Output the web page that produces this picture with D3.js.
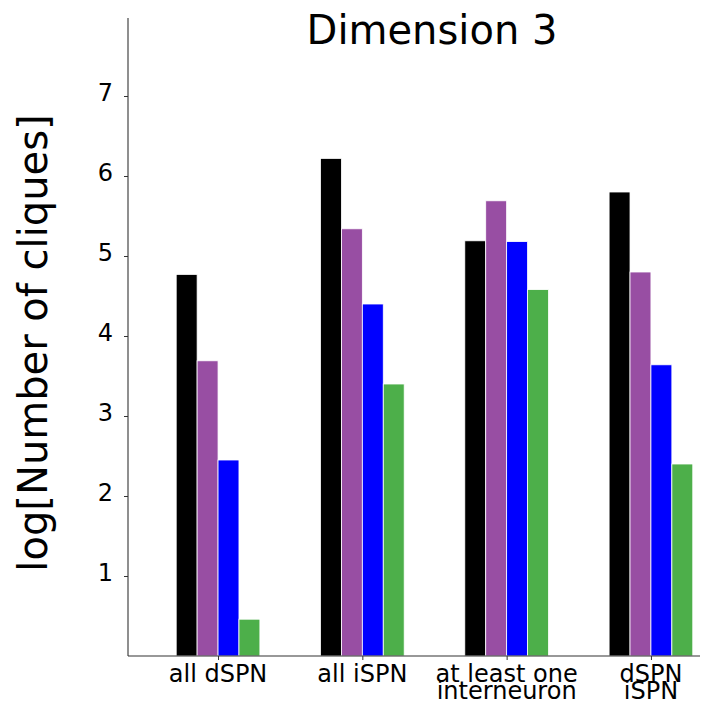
<!DOCTYPE html>
<html><head><meta charset="utf-8">
<script src="https://cdn.jsdelivr.net/npm/d3@7"></script>
<style>body{margin:0;background:#fff}svg{display:block}text{font-family:"DejaVu Sans",sans-serif}</style>
</head><body>
<script>
const categories = [["all dSPN"], ["all iSPN"], ["at least one", "interneuron"], ["dSPN", "iSPN"]];
const seriesNames = ["s1", "s2", "s3", "s4"];
const seriesColors = ["#000000", "#984ea3", "#0000ff", "#4daf4a"];
const valuesS1 = [4.77, 6.22, 5.19, 5.80];
const valuesS2 = [3.69, 5.34, 5.69, 4.80];
const valuesS3 = [2.45, 4.40, 5.18, 3.64];
const valuesS4 = [0.46, 3.40, 4.58, 2.40];
const yTicks = [1, 2, 3, 4, 5, 6, 7];
const title = "Dimension 3";
const yLabel = "log[Number of cliques]";

const series = [valuesS1, valuesS2, valuesS3, valuesS4];
const W = 702, H = 702;
const mLeft = 128, mRight = 700, mTop = 18, mBottom = 656;
const svg = d3.select("body").append("svg").attr("width", W).attr("height", H);

const x = d3.scaleLinear().domain([-0.624, 3.34]).range([mLeft, mRight]);
const y = d3.scaleLinear().domain([0, 7.975]).range([mBottom, mTop]);
const bw = 0.145;

series.forEach((vals, k) => {
  svg.append("g").selectAll("rect").data(vals).join("rect")
    .attr("x", (d, i) => x(i + (k - 2) * bw))
    .attr("width", x(bw) - x(0))
    .attr("y", d => y(d))
    .attr("height", d => y(0) - y(d))
    .attr("fill", seriesColors[k])
    .attr("stroke", "#ffffff").attr("stroke-width", 0.8);
});

const yAxis = d3.axisLeft(y).tickValues(yTicks).tickFormat(d3.format("d")).tickSize(4).tickPadding(11);
const gy = svg.append("g").attr("transform", `translate(${mLeft},0)`).call(yAxis);
gy.select(".domain").remove();
gy.selectAll("line").attr("stroke", "#333");
gy.selectAll("text").attr("font-size", 24).attr("fill", "#000").attr("dy", "0.2em");
svg.append("line").attr("x1", mLeft).attr("x2", mLeft).attr("y1", mTop).attr("y2", mBottom).attr("stroke", "#333").attr("stroke-width", 1.1);

const xAxis = d3.axisBottom(x).tickValues(d3.range(categories.length)).tickFormat("").tickSize(4);
const gx = svg.append("g").attr("transform", `translate(0,${mBottom})`).call(xAxis);
gx.select(".domain").remove();
gx.selectAll("line").attr("stroke", "#333");
svg.append("line").attr("x1", mLeft).attr("x2", mRight).attr("y1", mBottom).attr("y2", mBottom).attr("stroke", "#333").attr("stroke-width", 1.1);

categories.forEach((lines, i) => {
  const t = svg.append("text").attr("text-anchor", "middle").attr("font-size", 24).attr("fill", "#000");
  lines.forEach((ln, j) => {
    t.append("tspan").attr("x", x(i)).attr("y", 682 + j * 17).text(ln);
  });
});

svg.append("text").attr("x", 432).attr("y", 44).attr("text-anchor", "middle")
  .attr("font-size", 40).attr("fill", "#000").text(title);
svg.append("text").attr("transform", `translate(47,343) rotate(-90)`).attr("text-anchor", "middle")
  .attr("font-size", 40).attr("fill", "#000").text(yLabel);
</script>
</body></html>
